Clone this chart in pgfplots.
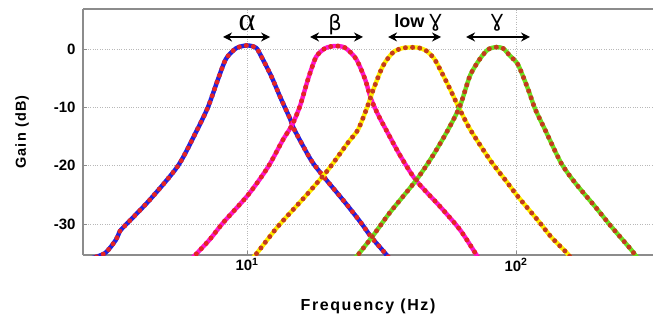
\documentclass[border=0pt]{standalone}
\usepackage{pgfplots}
\pgfplotsset{compat=1.18}
\usepackage{fontspec}
\setmainfont{Liberation Sans}
\newfontfamily\dejavu{DejaVu Sans}
\newfontfamily\lserif{Liberation Serif}
\usetikzlibrary{arrows.meta}
\definecolor{cblue}{HTML}{2020E0}
\definecolor{cmag}{HTML}{FF14D0}
\definecolor{cyel}{HTML}{FFF000}
\definecolor{cgreen}{HTML}{6CE020}
\definecolor{cred}{HTML}{E42424}
\definecolor{cbrown}{HTML}{C43A1E}
\definecolor{gridgray}{HTML}{B8B8B8}
\definecolor{framegray}{HTML}{8C8C8C}
\tikzset{
  basecurve/.style={line width=4.4pt, line join=round, line cap=round},
  ovlcurve/.style={line width=5pt, line cap=round, dash pattern=on 0pt off 7.2pt},
}
\begin{document}
\begin{tikzpicture}
\useasboundingbox (0,0) rectangle (653pt,314pt);
\begin{axis}[
  at={(83pt,59pt)}, anchor=south west,
  scale only axis, width=572pt, height=246pt,
  axis x line*=box, axis y line*=left, xtick pos=bottom,
  xmode=log, xmin=2.456, xmax=328.6,
  ymin=-35.33, ymax=6.96,
  xtick={10,100}, xticklabels={{10\textsuperscript{1}},{10\textsuperscript{2}}},
  ytick={-30,-20,-10,0}, yticklabels={-30,-20,-10,0},
  xminorticks=false, yminorticks=false,
  grid=major, grid style={gridgray, dotted, line width=0.9pt},
  axis line style={framegray, line width=1.2pt},
  tick style={framegray, line width=0.8pt},
  major tick length=4pt,
  tick label style={font=\fontsize{15}{18}\selectfont\bfseries},
  yticklabel style={xshift=-4pt},
  xlabel={Frequency (Hz)}, ylabel={Gain (dB)},
  xlabel style={at={(axis description cs:0.4983,-0.2276)}, anchor=base,
    font=\fontsize{16}{19}\selectfont\bfseries\addfontfeatures{LetterSpace=10}},
  ylabel style={at={(axis description cs:-0.0997,0.5)}, anchor=base,
    font=\fontsize{14.5}{17}\selectfont\bfseries\addfontfeatures{LetterSpace=8}},
  every axis plot/.append style={smooth, tension=0.45, no markers},
]
% alpha
\addplot[cblue, basecurve] coordinates {(2.60,-36) (2.966,-35.0) (3.258,-32.7) (3.372,-31.2) (3.549,-30.1) (4.359,-25.8) (5.539,-20) (6.462,-14.2) (7.161,-9.9) (7.803,-5.1) (8.355,-1.6) (9.103,0.2) (10.0,0.7) (10.80,0.3) (11.27,-1.1) (12.28,-4.5) (13.38,-8.5) (14.45,-11.9) (15.0,-13.8) (17.29,-19.0) (19.3,-21.9) (23.14,-26.3) (26.53,-29.8) (28.91,-32.2) (32.87,-35.2) (34,-36)};
\addplot[cred, ovlcurve] coordinates {(2.60,-36) (2.966,-35.0) (3.258,-32.7) (3.372,-31.2) (3.549,-30.1) (4.359,-25.8) (5.539,-20) (6.462,-14.2) (7.161,-9.9) (7.803,-5.1) (8.355,-1.6) (9.103,0.2) (10.0,0.7) (10.80,0.3) (11.27,-1.1) (12.28,-4.5) (13.38,-8.5) (14.45,-11.9) (15.0,-13.8) (17.29,-19.0) (19.3,-21.9) (23.14,-26.3) (26.53,-29.8) (28.91,-32.2) (32.87,-35.2) (34,-36)};
% beta
\addplot[cmag, basecurve] coordinates {(6.2,-36) (6.462,-35.2) (7.288,-32.6) (8.143,-29.8) (10.09,-25.0) (11.97,-20.2) (13.61,-15.5) (14.70,-13) (15.74,-9.7) (16.86,-5.1) (18.05,-1.3) (19.5,0.2) (21.24,0.6) (23.14,0.3) (25.42,-1.6) (27.46,-5.1) (28.91,-8.5) (30.69,-11.2) (32.87,-13.8) (37.05,-18.2) (42.49,-22.5) (52.18,-27) (61.92,-31) (71.02,-35.2) (73,-36)};
\addplot[cred, ovlcurve] coordinates {(6.2,-36) (6.462,-35.2) (7.288,-32.6) (8.143,-29.8) (10.09,-25.0) (11.97,-20.2) (13.61,-15.5) (14.70,-13) (15.74,-9.7) (16.86,-5.1) (18.05,-1.3) (19.5,0.2) (21.24,0.6) (23.14,0.3) (25.42,-1.6) (27.46,-5.1) (28.91,-8.5) (30.69,-11.2) (32.87,-13.8) (37.05,-18.2) (42.49,-22.5) (52.18,-27) (61.92,-31) (71.02,-35.2) (73,-36)};
% low gamma
\addplot[cyel, basecurve] coordinates {(10.4,-36) (10.80,-35.2) (13.04,-30.4) (16.43,-25.3) (20.00,-20.7) (23.74,-16) (25.85,-13.8) (27.93,-10) (29.41,-7) (32.03,-2.8) (34.89,-0.5) (37.6,0.2) (40.36,0.35) (43.4,0.3) (46.29,-0.2) (49.5,-1.5) (52.18,-3.4) (56.84,-6.8) (60.86,-9.7) (67.45,-13.7) (80.05,-19) (91.80,-22.6) (101.7,-25.3) (120.7,-29.4) (134.9,-32.2) (156.1,-35.2) (160,-36)};
\addplot[cbrown, ovlcurve] coordinates {(10.4,-36) (10.80,-35.2) (13.04,-30.4) (16.43,-25.3) (20.00,-20.7) (23.74,-16) (25.85,-13.8) (27.93,-10) (29.41,-7) (32.03,-2.8) (34.89,-0.5) (37.6,0.2) (40.36,0.35) (43.4,0.3) (46.29,-0.2) (49.5,-1.5) (52.18,-3.4) (56.84,-6.8) (60.86,-9.7) (67.45,-13.7) (80.05,-19) (91.80,-22.6) (101.7,-25.3) (120.7,-29.4) (134.9,-32.2) (156.1,-35.2) (160,-36)};
% gamma
\addplot[cgreen, basecurve] coordinates {(25,-36) (25.85,-35.3) (29.41,-32.0) (34.01,-28.0) (42.49,-22.5) (49.14,-18.2) (55.88,-13.8) (61.92,-9.7) (67.45,-4.5) (73.47,-1.6) (78.70,0) (84.27,0.4) (89.5,0.2) (94.99,-1.1) (101.7,-2.6) (110.8,-6.8) (117.7,-10.2) (128.2,-13.8) (147.0,-19.5) (165.7,-22.9) (196.7,-27) (225.6,-30.4) (267.7,-34.4) (277.0,-35.3) (285,-36)};
\addplot[cbrown, ovlcurve] coordinates {(25,-36) (25.85,-35.3) (29.41,-32.0) (34.01,-28.0) (42.49,-22.5) (49.14,-18.2) (55.88,-13.8) (61.92,-9.7) (67.45,-4.5) (73.47,-1.6) (78.70,0) (84.27,0.4) (89.5,0.2) (94.99,-1.1) (101.7,-2.6) (110.8,-6.8) (117.7,-10.2) (128.2,-13.8) (147.0,-19.5) (165.7,-22.9) (196.7,-27) (225.6,-30.4) (267.7,-34.4) (277.0,-35.3) (285,-36)};
% band arrows
\tikzset{band/.style={{Stealth[length=9pt,width=9pt]}-{Stealth[length=9pt,width=9pt]}, line width=2.2pt, black}}
\draw[band] (axis cs:8.143,2.15) -- (axis cs:12.18,2.15);
\draw[band] (axis cs:17.15,2.15) -- (axis cs:26.99,2.15);
\draw[band] (axis cs:33.44,2.15) -- (axis cs:52.63,2.15);
\draw[band] (axis cs:65.19,2.15) -- (axis cs:112.7,2.15);
\node[anchor=base, font=\lserif\fontsize{32}{32}\selectfont, inner sep=0pt] at (axis cs:10,3.35) {α};
\node[anchor=base, font=\dejavu\fontsize{21}{21}\selectfont, inner sep=0pt] at (axis cs:21.24,3.35) {β};
\node[anchor=base, font=\fontsize{18}{18}\selectfont\bfseries, inner sep=0pt] at (axis cs:43.22,3.8) {low {\dejavu\mdseries Ɣ}};
\node[anchor=base, font=\dejavu\fontsize{18}{18}\selectfont, inner sep=0pt] at (axis cs:85.0,3.8) {Ɣ};
\end{axis}
\end{tikzpicture}
\end{document}
